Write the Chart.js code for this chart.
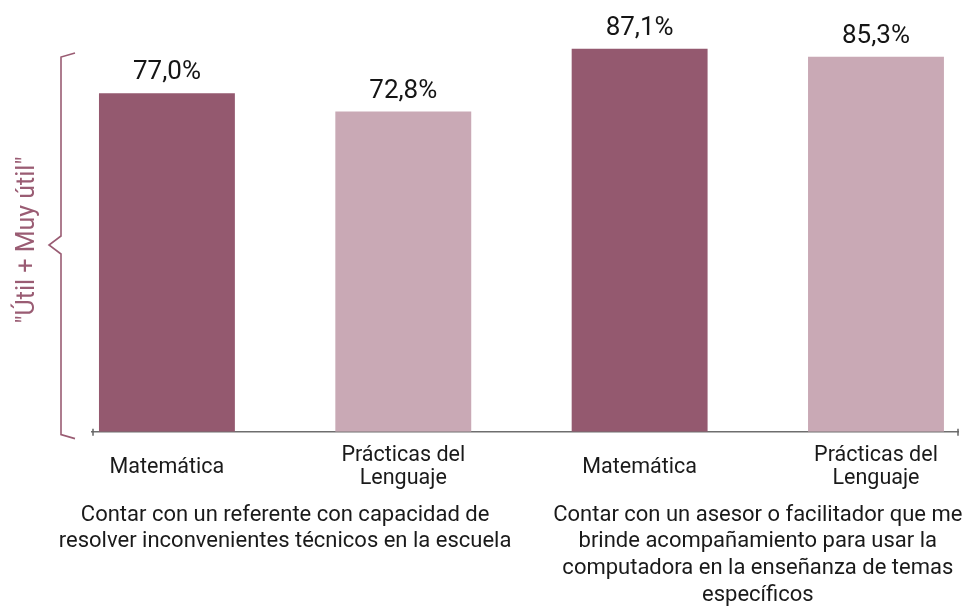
<!DOCTYPE html>
<html><head><meta charset="utf-8">
<script src="https://cdn.jsdelivr.net/npm/chart.js@4"></script>
<style>html,body{margin:0;padding:0;background:#fff}canvas{display:block}</style>
</head><body>
<canvas id="c" width="966" height="614"></canvas>
<script>
const categories = ['Matemática', ['Prácticas del', 'Lenguaje'], 'Matemática', ['Prácticas del', 'Lenguaje']];
const groups = [
  ['Contar con un referente con capacidad de', 'resolver inconvenientes técnicos en la escuela'],
  ['Contar con un asesor o facilitador que me', 'brinde acompañamiento para usar la', 'computadora en la enseñanza de temas', 'específicos']
];
const values = [77.0, 72.8, 87.1, 85.3];
const valueLabels = ['77,0%', '72,8%', '87,1%', '85,3%'];
const axisTitle = '"Útil + Muy útil"';

const DARK = '#94596F', LIGHT = '#C9A9B5', MAUVE = '#9A5C73';
const FONT = 'Roboto, "Liberation Sans", sans-serif';
const X_MIN = -0.317, X_MAX = 3.347;

const valueLabelPlugin = {
  id: 'valueLabels',
  afterDatasetsDraw(chart) {
    const ctx = chart.ctx, meta = chart.getDatasetMeta(0);
    ctx.save();
    ctx.font = '26px ' + FONT;
    ctx.fillStyle = '#151515';
    ctx.textAlign = 'center';
    ctx.textBaseline = 'alphabetic';
    meta.data.forEach((bar, i) => ctx.fillText(valueLabels[i], bar.x, bar.y - 14));
    ctx.restore();
  }
};

const decorPlugin = {
  id: 'decor',
  afterDraw(chart) {
    const ctx = chart.ctx, a = chart.chartArea;
    ctx.save();
    ctx.strokeStyle = '#666';
    ctx.lineWidth = 1.5;
    ctx.beginPath();
    ctx.moveTo(a.left + 1, a.bottom - 3); ctx.lineTo(a.left + 1, a.bottom + 4);
    ctx.moveTo(a.right, a.bottom - 3); ctx.lineTo(a.right, a.bottom + 4);
    ctx.stroke();
    const xl = a.left - 31, top = 53, bot = a.bottom + 7, mid = 245;
    ctx.strokeStyle = MAUVE;
    ctx.lineWidth = 1.6;
    ctx.beginPath();
    ctx.moveTo(xl + 14, top);
    ctx.lineTo(xl, top + 4);
    ctx.lineTo(xl, mid - 9);
    ctx.lineTo(xl - 12, mid);
    ctx.lineTo(xl, mid + 9);
    ctx.lineTo(xl, bot - 4);
    ctx.lineTo(xl + 14, bot);
    ctx.stroke();
    ctx.translate(a.left - 64, mid - 5);
    ctx.rotate(-Math.PI / 2);
    ctx.font = '25px ' + FONT;
    ctx.fillStyle = MAUVE;
    ctx.textAlign = 'center';
    ctx.textBaseline = 'middle';
    ctx.fillText(axisTitle, 0, 0);
    ctx.restore();
  }
};

new Chart(document.getElementById('c'), {
  type: 'bar',
  data: {
    datasets: [{
      data: values.map((v, i) => ({ x: i, y: v })),
      backgroundColor: values.map((_, i) => i % 2 === 0 ? DARK : LIGHT),
      borderWidth: 0,
      categoryPercentage: 1,
      barPercentage: 0.575
    }]
  },
  options: {
    responsive: false,
    animation: false,
    layout: { padding: { left: 92, right: 8, top: 14, bottom: 5 } },
    plugins: { legend: { display: false }, tooltip: { enabled: false } },
    scales: {
      y: { display: false, min: 0, max: 95 },
      x: {
        type: 'linear', position: 'bottom', weight: 0, offset: false,
        min: X_MIN, max: X_MAX,
        afterBuildTicks: ax => { ax.ticks = categories.map((_, i) => ({ value: i })); },
        ticks: {
          autoSkip: false, maxRotation: 0, minRotation: 0, crossAlign: 'center',
          padding: 0, color: '#1a1a1a',
          font: { family: FONT, size: 21.5, lineHeight: 1.07 },
          callback: v => categories[v]
        },
        grid: { offset: false, drawOnChartArea: false, drawTicks: true, tickLength: 24, color: 'rgba(0,0,0,0)' },
        border: { display: true, color: '#6e6e6e', width: 1.5 }
      },
      x2: {
        type: 'linear', position: 'bottom', weight: 1, offset: false,
        min: X_MIN, max: X_MAX,
        afterBuildTicks: ax => { ax.ticks = groups.map((_, g) => ({ value: 2 * g + 0.5 })); },
        ticks: {
          autoSkip: false, maxRotation: 0, minRotation: 0,
          padding: 0, color: '#1a1a1a',
          font: { family: FONT, size: 22, lineHeight: 1.22 },
          callback: (v, i) => groups[i]
        },
        grid: { display: false, drawTicks: false },
        border: { display: false }
      }
    }
  },
  plugins: [valueLabelPlugin, decorPlugin]
});
</script>
</body></html>
